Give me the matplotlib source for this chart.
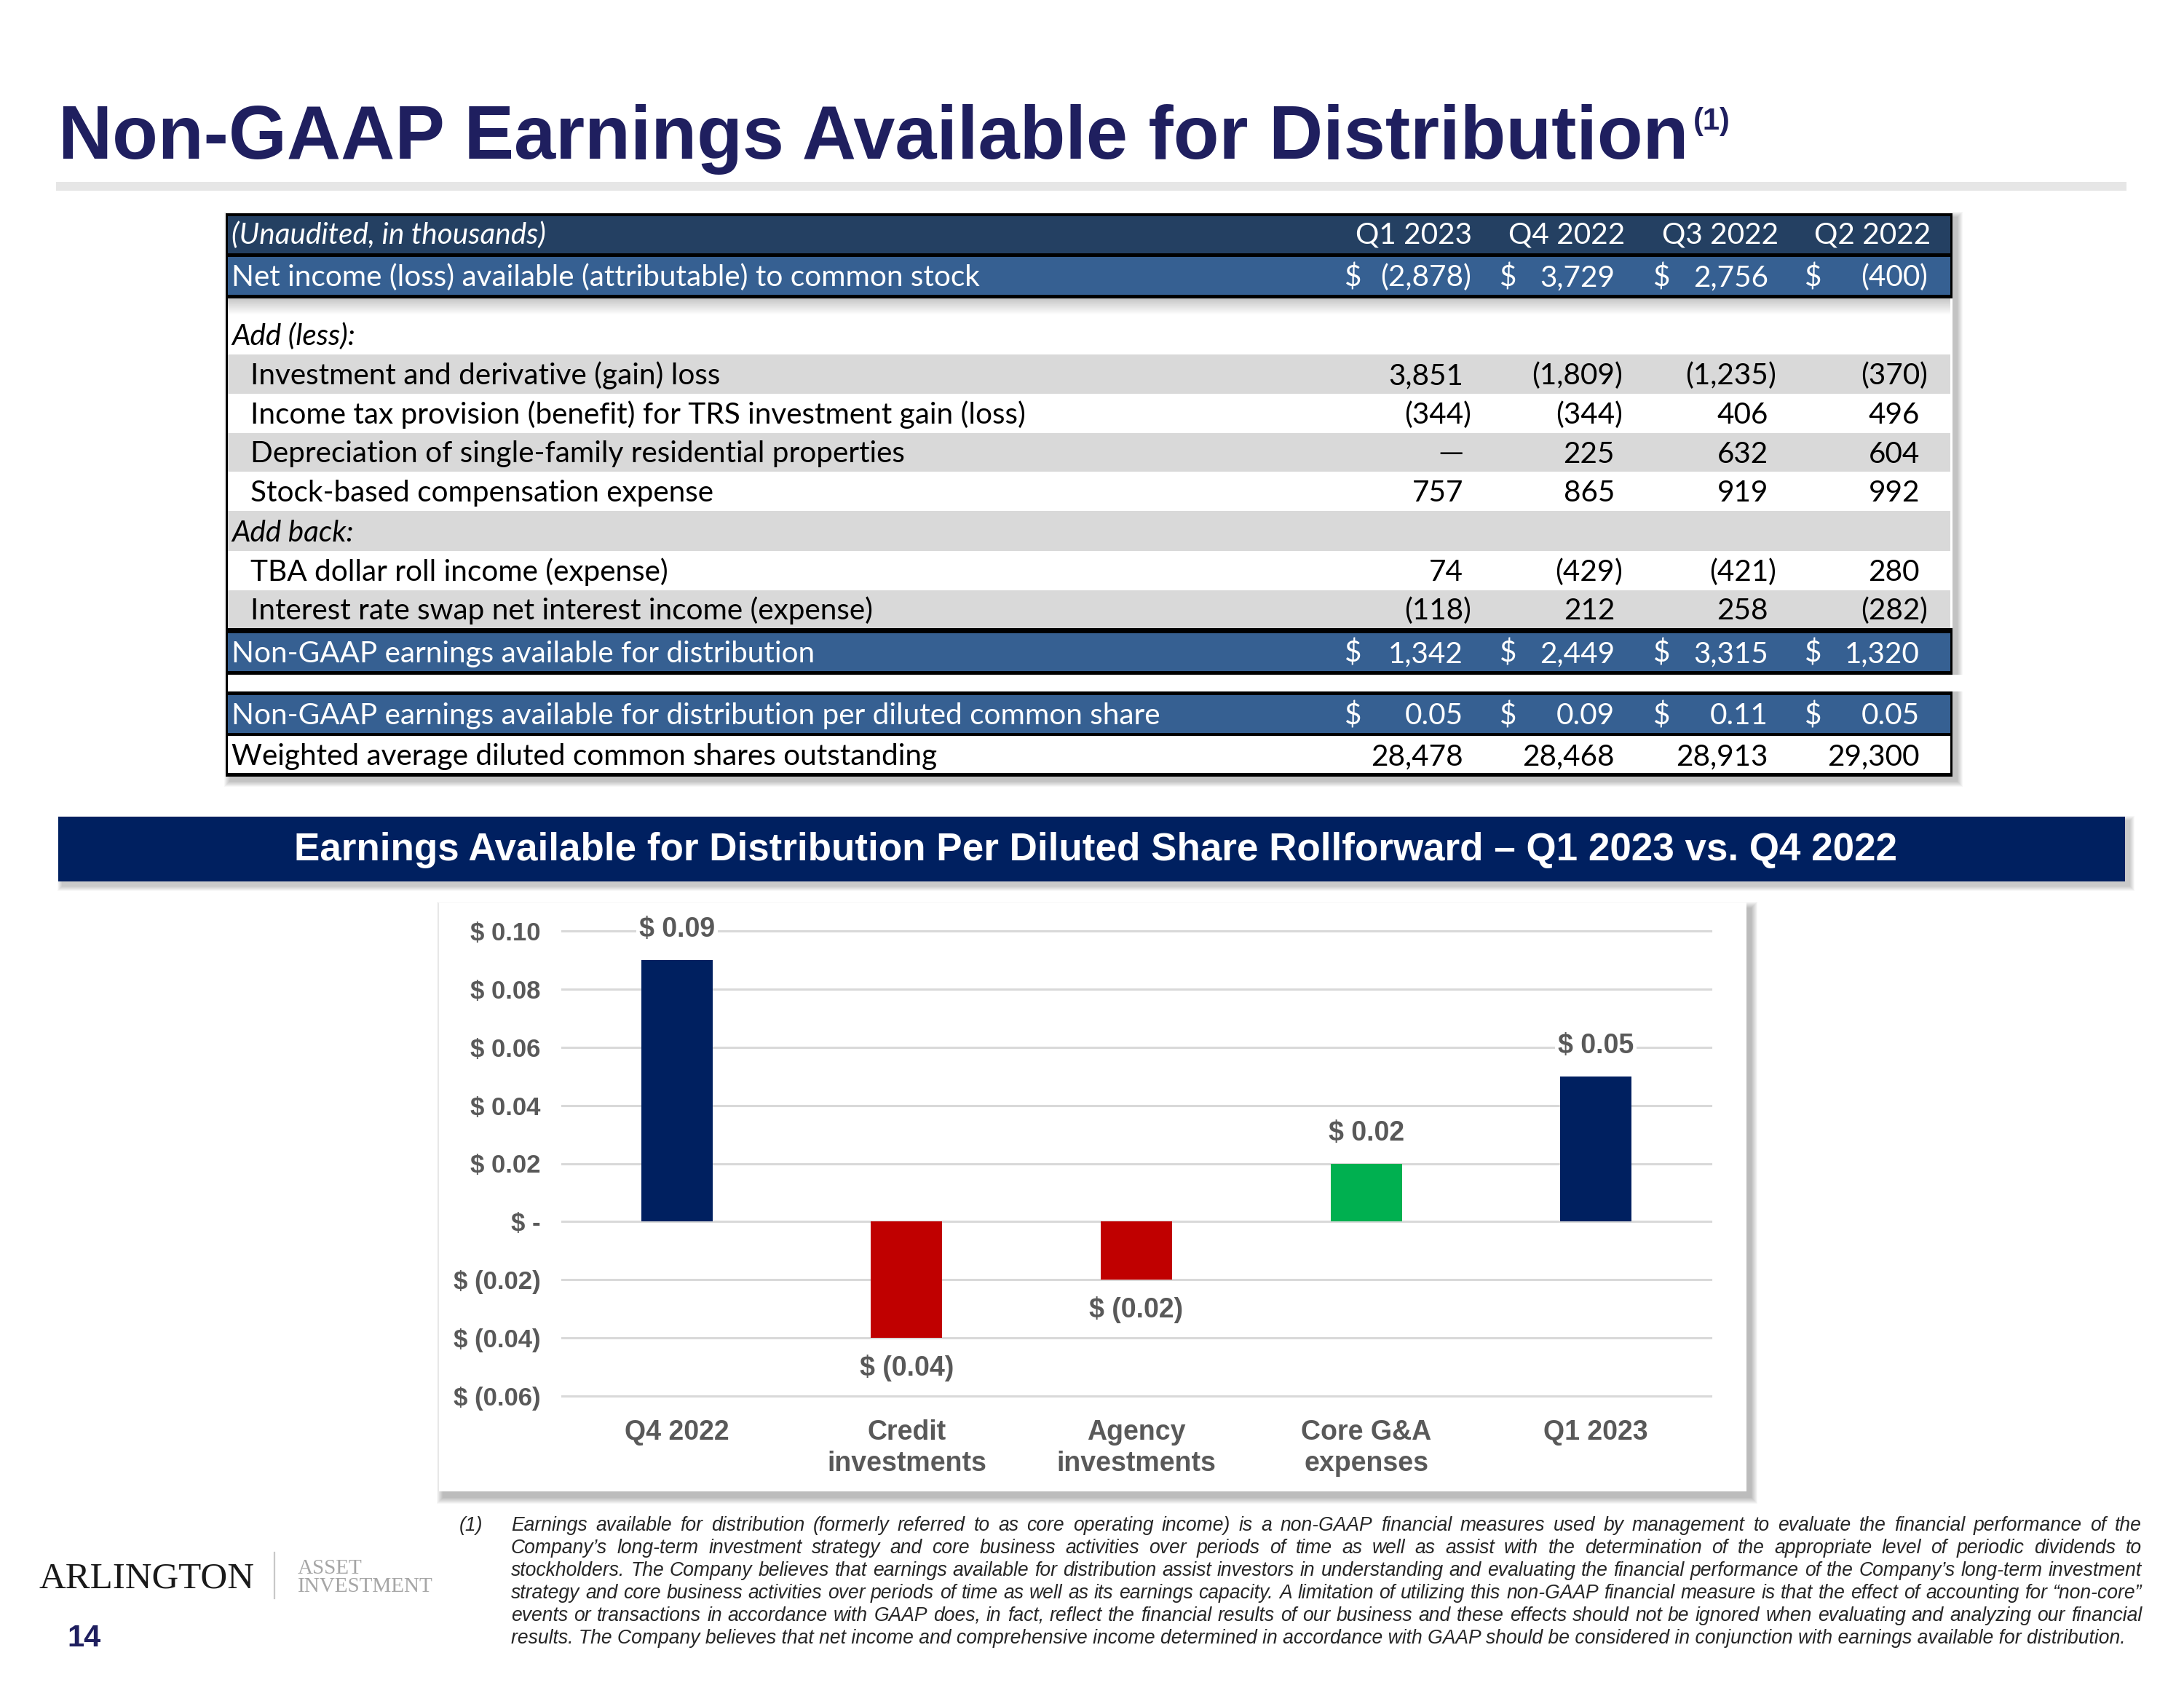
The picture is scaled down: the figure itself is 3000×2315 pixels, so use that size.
import numpy as np
import matplotlib
matplotlib.use('Agg')
import matplotlib.pyplot as plt
from matplotlib.patches import Rectangle
from matplotlib import font_manager

W, H, DPI = 3000, 2315, 200

# ---- table data (in thousands) ----
periods = ['Q1 2023', 'Q4 2022', 'Q3 2022', 'Q2 2022']
net_income = [-2878, 3729, 2756, -400]
inv_deriv = [3851, -1809, -1235, -370]
income_tax = [-344, -344, 406, 496]
depreciation = [None, 225, 632, 604]
stock_comp = [757, 865, 919, 992]
tba_roll = [74, -429, -421, 280]
swap_income = [-118, 212, 258, -282]
ead_total = [1342, 2449, 3315, 1320]
ead_per_share = [0.05, 0.09, 0.11, 0.05]
diluted_shares = [28478, 28468, 28913, 29300]

# ---- rollforward chart data ----
steps = ['Q4 2022', 'Credit\ninvestments', 'Agency\ninvestments', 'Core G&A\nexpenses', 'Q1 2023']
step_values = [0.09, -0.04, -0.02, 0.02, 0.05]
step_colors = ['#002060', '#C00000', '#C00000', '#00B050', '#002060']
y_ticks = [-0.06, -0.04, -0.02, 0.0, 0.02, 0.04, 0.06, 0.08, 0.10]
y_tick_labels = ['$ (0.06)', '$ (0.04)', '$ (0.02)', '$ -', '$ 0.02', '$ 0.04', '$ 0.06', '$ 0.08', '$ 0.10']

footnote = [
    "Earnings available for distribution (formerly referred to as core operating income) is a non-GAAP financial measures used by management to evaluate the financial performance of the",
    "Company\u2019s long-term investment strategy and core business activities over periods of time as well as assist with the determination of the appropriate level of periodic dividends to",
    "stockholders. The Company believes that earnings available for distribution assist investors in understanding and evaluating the financial performance of the Company\u2019s long-term investment",
    "strategy and core business activities over periods of time as well as its earnings capacity. A limitation of utilizing this non-GAAP financial measure is that the effect of accounting for \u201cnon-core\u201d",
    "events or transactions in accordance with GAAP does, in fact, reflect the financial results of our business and these effects should not be ignored when evaluating and analyzing our financial",
    "results. The Company believes that net income and comprehensive income determined in accordance with GAAP should be considered in conjunction with earnings available for distribution.",
]

NAVY_T = '#1F1F5F'
SANS = 'Liberation Sans'
TF = 'Lato'


def has_font(name):
    try:
        font_manager.findfont(font_manager.FontProperties(family=name), fallback_to_default=False)
        return True
    except Exception:
        return False


NARROW = 'Liberation Sans Narrow' if has_font('Liberation Sans Narrow') else SANS

fig = plt.figure(figsize=(W / DPI, H / DPI), dpi=DPI)
bg = fig.add_axes([0, 0, 1, 1])
bg.set_xlim(0, W)
bg.set_ylim(H, 0)
bg.axis('off')
renderer = fig.canvas.get_renderer()


def rect(x0, y0, x1, y1, color, z=1, **kw):
    bg.add_patch(Rectangle((x0, y0), x1 - x0, y1 - y0, facecolor=color,
                           edgecolor='none', zorder=z, **kw))


def shadow(x0, y0, x1, y1, dx=7, dy=7, spread=9, z=0.5):
    for i in range(spread, 0, -1):
        rect(x0 + dx - i, y0 + dy - i, x1 + dx + i, y1 + dy + i, 'black', z=z, alpha=0.03)


# ---- title ----
title = bg.text(80, 218, 'Non-GAAP Earnings Available for Distribution', fontsize=37,
                fontweight='bold', color=NAVY_T, family=SANS, va='baseline')
tx1 = title.get_window_extent(renderer).x1
bg.text(tx1 + 6, 178, '(1)', fontsize=15, fontweight='bold', color=NAVY_T, family=SANS, va='baseline')
rect(77, 250, 2921, 262, '#E6E6E6')

# ---- table ----
TL, TR = 310, 2682
shadow(TL, 293, TR, 1067, dx=6, dy=6, spread=8)
rect(TL, 293, TR, 1067, 'white', z=1)
num_right = [2010, 2218, 2429, 2637]
head_right = [2022, 2232, 2443, 2652]
dollar_x = [1847, 2060, 2271, 2479]
TS = 14.6


def row_text(x, yc, s, color='black', ha='left', style='normal', family=TF, size=None):
    bg.text(x, yc + 14, s, fontsize=size or TS, color=color, family=family, ha=ha,
            va='baseline', style=style, zorder=5)


def put_values(vals, yc, color, dollar=False, decimals=0):
    for v, xr, xd in zip(vals, num_right, dollar_x):
        if dollar:
            row_text(xd, yc, '$', color)
        if v is None:
            row_text(xr, yc - 3, '\u2014', color, ha='right', family='DejaVu Sans', size=12)
            continue
        s = f'{abs(v):,.{decimals}f}'
        if v < 0:
            row_text(xr, yc, '(' + s, color, ha='right')
            row_text(xr, yc, ')', color)
        else:
            row_text(xr, yc, s, color, ha='right')


# header
rect(TL, 293, TR, 353, 'black', z=2)
rect(TL + 3, 297, TR - 3, 348, '#244062', z=3)
row_text(318, 321, '(Unaudited, in thousands)', 'white', style='italic')
for p, xr in zip(periods, head_right):
    row_text(xr, 321, p, 'white', ha='right')

# net income
rect(TL, 353, TR, 410, 'black', z=2)
rect(TL + 3, 353, TR - 3, 405, '#366092', z=3)
row_text(318, 379, 'Net income (loss) available (attributable) to common stock', 'white')
put_values(net_income, 379, 'white', dollar=True)

# soft shadow under the header block
grad = np.linspace(0.78, 1.0, 30).reshape(-1, 1)
bg.imshow(grad, extent=(TL + 3, TR - 3, 433, 410), cmap='gray', vmin=0, vmax=1,
          aspect='auto', zorder=3, interpolation='bilinear')

body = [
    ('Add (less):', None, 433, 'white', 318, 'italic'),
    ('Investment and derivative (gain) loss', inv_deriv, 487, '#D9D9D9', 344, 'normal'),
    ('Income tax provision (benefit) for TRS investment gain (loss)', income_tax, 541, 'white', 344, 'normal'),
    ('Depreciation of single-family residential properties', depreciation, 595, '#D9D9D9', 344, 'normal'),
    ('Stock-based compensation expense', stock_comp, 648, 'white', 344, 'normal'),
    ('Add back:', None, 702, '#D9D9D9', 318, 'italic'),
    ('TBA dollar roll income (expense)', tba_roll, 757, 'white', 344, 'normal'),
    ('Interest rate swap net interest income (expense)', swap_income, 811, '#D9D9D9', 344, 'normal'),
]
body_bottom = 863
for i, (lab, vals, y0, col, x, st) in enumerate(body):
    y1 = body[i + 1][2] if i + 1 < len(body) else body_bottom
    rect(TL + 3, y0, TR - 3, y1, col, z=2)
    yc = (y0 + y1) / 2
    row_text(x, yc, lab, 'black', style=st)
    if vals is not None:
        put_values(vals, yc, 'black')

# non-GAAP total
rect(TL, 863, TR, 927, 'black', z=2)
rect(TL + 3, 870, TR - 3, 922, '#366092', z=3)
row_text(318, 896, 'Non-GAAP earnings available for distribution', 'white')
put_values(ead_total, 896, 'white', dollar=True)

# gap between blocks
rect(TL + 3, 927, TR + 20, 950, 'white', z=3)

# per share block
rect(TL, 950, TR, 1067, 'black', z=2)
rect(TL + 3, 955, TR - 3, 1007, '#366092', z=3)
rect(TL + 3, 1011, TR - 3, 1062, 'white', z=3)
row_text(318, 981, 'Non-GAAP earnings available for distribution per diluted common share', 'white')
put_values(ead_per_share, 981, 'white', dollar=True, decimals=2)
row_text(318, 1037, 'Weighted average diluted common shares outstanding', 'black')
put_values(diluted_shares, 1037, 'black')
# left border of the table
rect(TL, 293, TL + 3, 1067, 'black', z=4)

# ---- chart banner ----
shadow(80, 1122, 2919, 1211, dx=6, dy=6, spread=7)
rect(80, 1122, 2919, 1211, '#002060', z=2)
bg.text(1505, 1168, 'Earnings Available for Distribution Per Diluted Share Rollforward \u2013 Q1 2023 vs. Q4 2022',
        fontsize=19.1, fontweight='bold', color='white', family=SANS, ha='center', va='center', zorder=3)

# chart panel
shadow(603, 1240, 2399, 2049, dx=6, dy=8, spread=9)
rect(603, 1240, 2399, 2049, 'white', z=1)

ax = fig.add_axes([772 / W, 1 - 1918 / H, 1578 / W, 639 / H], zorder=3)
ax.set_facecolor('none')
xs = np.arange(len(steps))
ax.bar(xs, step_values, width=0.31, color=step_colors, zorder=3)
ax.set_xlim(-0.5, len(steps) - 0.5)
ax.set_ylim(-0.06, 0.10)
for yt in y_ticks:
    ax.axhline(yt, color='#D9D9D9', lw=1.1, zorder=1, clip_on=False)
for s in ax.spines.values():
    s.set_visible(False)
ax.set_yticks(y_ticks)
ax.set_yticklabels(y_tick_labels)
ax.set_xticks(xs)
ax.set_xticklabels(steps, linespacing=1.25)
ax.tick_params(axis='y', length=0, pad=10.5, labelsize=12.5, labelcolor='#595959')
ax.tick_params(axis='x', length=0, pad=11.5, labelsize=13.5, labelcolor='#595959')
for lab in ax.get_xticklabels() + ax.get_yticklabels():
    lab.set_fontweight('bold')
    lab.set_family(SANS)
for xv, v in zip(xs, step_values):
    txt = f'$ {v:.2f}' if v >= 0 else f'$ ({abs(v):.2f})'
    ax.annotate(txt, (xv, v), xytext=(0, 15 if v >= 0 else -15), textcoords='offset points',
                ha='center', va='center', fontsize=13.5, fontweight='bold', color='#595959',
                family=SANS, zorder=4,
                bbox=dict(boxstyle='square,pad=0.1', fc='white', ec='none'))

# ---- footnote (justified) ----
FX0, FX1 = 702, 2942
fn_y = [2103, 2134, 2165, 2196, 2227, 2258]
fkw = dict(style='italic', color='#262626', family=NARROW, va='baseline', zorder=5)


def text_width(s, size):
    t = bg.text(0, 0, s, fontsize=size, **fkw)
    w = t.get_window_extent(renderer).width
    t.remove()
    return w


# fit size so the densest line fills the column
base = 9.5
widest = max(text_width(l, base) for l in footnote[:-1])
fsize = base * (FX1 - FX0) / widest * 0.995

bg.text(631, fn_y[0], '(1)', fontsize=fsize, **fkw)
for i, (line, y) in enumerate(zip(footnote, fn_y)):
    words = line.split(' ')
    if i == len(footnote) - 1:
        bg.text(FX0, y, line, fontsize=fsize, **fkw)
        continue
    texts = [bg.text(0, y, w, fontsize=fsize, **fkw) for w in words]
    widths = [t.get_window_extent(renderer).width for t in texts]
    gap = (FX1 - FX0 - sum(widths)) / (len(words) - 1)
    x = FX0
    for t, w in zip(texts, widths):
        t.set_x(x)
        x += w + gap

# ---- logo and page number ----
bg.text(54, 2181, 'ARLINGTON', fontsize=18.3, color='#1A1A1A', family='Liberation Serif', va='baseline')
bg.plot([377, 377], [2133, 2196], color='#C8C8C8', lw=0.8)
bg.text(409, 2162, 'ASSET', fontsize=10.5, color='#A6A6A6', family='Liberation Serif', va='baseline')
bg.text(409, 2187, 'INVESTMENT', fontsize=10.5, color='#A6A6A6', family='Liberation Serif', va='baseline')
bg.text(92, 2262, '14', fontsize=15, fontweight='bold', color=NAVY_T, family=SANS, va='baseline')

fig.savefig('out.png', dpi=DPI, facecolor='white')
